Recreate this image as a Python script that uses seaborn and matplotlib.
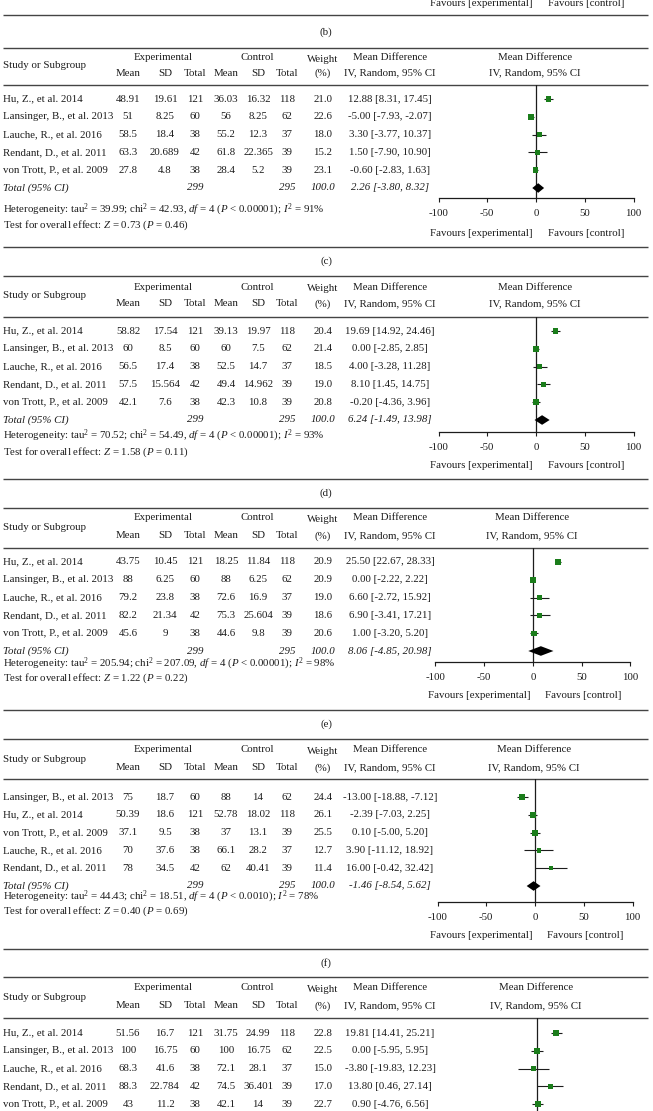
import numpy as np
import pandas as pd
import seaborn as sns
import matplotlib.pyplot as plt

sns.set_theme(style="white")
plt.rcParams['font.family'] = ['Liberation Serif', 'DejaVu Serif']
plt.rcParams['mathtext.fontset'] = 'custom'
plt.rcParams['mathtext.rm'] = 'Liberation Serif'
plt.rcParams['mathtext.it'] = 'Liberation Serif:italic'

W, H = 653, 1111
FS = 7.8
INK = '#1c1c1c'
RULE = '#444444'
GREEN = '#1b7d1b'
STEP = 17.8

# ---- data ----
names_std = ["Hu, Z., et al. 2014", "Lansinger, B., et al. 2013", "Lauche, R., et al. 2016",
             "Rendant, D., et al. 2011", "von Trott, P., et al. 2009"]
names_e = ["Lansinger, B., et al. 2013", "Hu, Z., et al. 2014", "von Trott, P., et al. 2009",
           "Lauche, R., et al. 2016", "Rendant, D., et al. 2011"]

# panel (c)
c_exp_mean = [48.91, 51, 58.5, 63.3, 27.8]
c_exp_sd = [19.61, 8.25, 18.4, 20.689, 4.8]
c_exp_n = [121, 60, 38, 42, 38]
c_ctl_mean = [36.03, 56, 55.2, 61.8, 28.4]
c_ctl_sd = [16.32, 8.25, 12.3, 22.365, 5.2]
c_ctl_n = [118, 62, 37, 39, 39]
c_weight = [21.0, 22.6, 18.0, 15.2, 23.1]
c_md = [12.88, -5.00, 3.30, 1.50, -0.60]
c_lo = [8.31, -7.93, -3.77, -7.90, -2.83]
c_hi = [17.45, -2.07, 10.37, 10.90, 1.63]
c_total = [2.26, -3.80, 8.32]
c_het = ["39.99", "42.93", "0.00001", "91", "0.73", "0.46"]

# panel (d)
d_exp_mean = [58.82, 60, 56.5, 57.5, 42.1]
d_exp_sd = [17.54, 8.5, 17.4, 15.564, 7.6]
d_exp_n = [121, 60, 38, 42, 38]
d_ctl_mean = [39.13, 60, 52.5, 49.4, 42.3]
d_ctl_sd = [19.97, 7.5, 14.7, 14.962, 10.8]
d_ctl_n = [118, 62, 37, 39, 39]
d_weight = [20.4, 21.4, 18.5, 19.0, 20.8]
d_md = [19.69, 0.00, 4.00, 8.10, -0.20]
d_lo = [14.92, -2.85, -3.28, 1.45, -4.36]
d_hi = [24.46, 2.85, 11.28, 14.75, 3.96]
d_total = [6.24, -1.49, 13.98]
d_het = ["70.52", "54.49", "0.00001", "93", "1.58", "0.11"]

# panel (e)
e_exp_mean = [43.75, 88, 79.2, 82.2, 45.6]
e_exp_sd = [10.45, 6.25, 23.8, 21.34, 9]
e_exp_n = [121, 60, 38, 42, 38]
e_ctl_mean = [18.25, 88, 72.6, 75.3, 44.6]
e_ctl_sd = [11.84, 6.25, 16.9, 25.604, 9.8]
e_ctl_n = [118, 62, 37, 39, 39]
e_weight = [20.9, 20.9, 19.0, 18.6, 20.6]
e_md = [25.50, 0.00, 6.60, 6.90, 1.00]
e_lo = [22.67, -2.22, -2.72, -3.41, -3.20]
e_hi = [28.33, 2.22, 15.92, 17.21, 5.20]
e_total = [8.06, -4.85, 20.98]
e_het = ["205.94", "207.09", "0.00001", "98", "1.22", "0.22"]

# panel (f)
f_exp_mean = [75, 50.39, 37.1, 70, 78]
f_exp_sd = [18.7, 18.6, 9.5, 37.6, 34.5]
f_exp_n = [60, 121, 38, 38, 42]
f_ctl_mean = [88, 52.78, 37, 66.1, 62]
f_ctl_sd = [14, 18.02, 13.1, 28.2, 40.41]
f_ctl_n = [62, 118, 39, 37, 39]
f_weight = [24.4, 26.1, 25.5, 12.7, 11.4]
f_md = [-13.00, -2.39, 0.10, 3.90, 16.00]
f_lo = [-18.88, -7.03, -5.00, -11.12, -0.42]
f_hi = [-7.12, 2.25, 5.20, 18.92, 32.42]
f_total = [-1.46, -8.54, 5.62]
f_het = ["44.43", "18.51", "0.0010", "78", "0.40", "0.69"]

# panel (g), cut off at the bottom of the page
g_exp_mean = [51.56, 100, 68.3, 88.3, 43]
g_exp_sd = [16.7, 16.75, 41.6, 22.784, 11.2]
g_exp_n = [121, 60, 38, 42, 38]
g_ctl_mean = [31.75, 100, 72.1, 74.5, 42.1]
g_ctl_sd = [24.99, 16.75, 28.1, 36.401, 14]
g_ctl_n = [118, 62, 37, 39, 39]
g_weight = [22.8, 22.5, 15.0, 17.0, 22.7]
g_md = [19.81, 0.00, -3.80, 13.80, 0.90]
g_lo = [14.41, -5.95, -19.83, 0.46, -4.76]
g_hi = [25.21, 5.95, 12.23, 27.14, 6.56]

axis_ticks = [-100, -50, 0, 50, 100]
n_exp_total, n_ctl_total = 299, 295

# ---- figure ----
fig = plt.figure(figsize=(W / 100, H / 100), dpi=100)
bg = fig.add_axes([0, 0, 1, 1])
bg.set_xlim(0, W)
bg.set_ylim(H, 0)
bg.axis('off')


def txt(x, y, s, ha='center', style='normal', va='center'):
    bg.text(x, y, s, ha=ha, va=va, fontsize=FS, color=INK, style=style)


def rule(y):
    bg.plot([3, 648], [y, y], color=RULE, lw=1.0, solid_capstyle='butt')


def favours(y, x0):
    txt(x0 - 3, y, "Favours [experimental]", ha='right')
    txt(x0 + 12, y, "Favours [control]", ha='left')


cols = dict(em=128, esd=165, en=195, cm=226, csd=258, cn=287, wt=323, md=390)


def draw_panel(study, em, esd, en, cm, csd, cn, wt, md, lo, hi, total, het, lay):
    top, h1, h2, hl, row0, axis_y, x0 = (lay['top'], lay['h1'], lay['h2'], lay['hl'],
                                         lay['row0'], lay['axis'], lay['x0'])
    rule(top)
    rule(hl)
    # headers
    txt(3, (h1 + h2) / 2, "Study or Subgroup", ha='left')
    txt(163, h1, "Experimental")
    txt(257, h1, "Control")
    txt(cols['wt'], h1 + 1.5, "Weight")
    txt(cols['md'], h1, "Mean Difference")
    txt(x0 - 1, h1, "Mean Difference")
    for key, lab in [('em', 'Mean'), ('esd', 'SD'), ('en', 'Total'),
                     ('cm', 'Mean'), ('csd', 'SD'), ('cn', 'Total'), ('wt', '(%)')]:
        txt(cols[key], h2, lab)
    txt(cols['md'], h2, "IV, Random, 95% CI")
    txt(x0 - 1, h2, "IV, Random, 95% CI")

    # table rows
    for i in range(len(study)):
        y = row0 + i * STEP
        txt(3, y, study[i], ha='left')
        txt(cols['em'], y, f"{em[i]:g}")
        txt(cols['esd'], y, f"{esd[i]:g}")
        txt(cols['en'], y, f"{en[i]}")
        txt(cols['cm'], y, f"{cm[i]:g}")
        txt(cols['csd'], y, f"{csd[i]:g}")
        txt(cols['cn'], y, f"{cn[i]}")
        txt(cols['wt'], y, f"{wt[i]:.1f}")
        txt(cols['md'], y, f"{md[i]:.2f} [{lo[i]:.2f}, {hi[i]:.2f}]")

    if total is not None:
        y = row0 + 5 * STEP
        txt(3, y, "Total (95% CI)", ha='left', style='italic')
        txt(cols['en'], y, str(n_exp_total), style='italic')
        txt(cols['cn'], y, str(n_ctl_total), style='italic')
        txt(cols['wt'], y, "100.0", style='italic')
        txt(cols['md'], y, f"{total[0]:.2f} [{total[1]:.2f}, {total[2]:.2f}]", style='italic')
        tau, chi, p, i2, z, pz = het
        txt(3, lay['het'] + 2, "Heterogeneity: tau$^2$ = " + tau + "; chi$^2$ = " + chi +
            ", $df$ = 4 ($P$ < " + p + "); $I^2$ = " + i2 + "%", ha='left', va='baseline')
        txt(3, lay['test'] + 1, "Test for overall effect: $Z$ = " + z + " ($P$ = " + pz + ")",
            ha='left')
        favours(lay['fav'], x0)
        rule(lay['sep'])
        txt(326, lay['lab'], lay['name'])

    # forest plot
    ax = fig.add_axes([(x0 - 97.5) / W, 1 - axis_y / H, 195 / W, (axis_y - hl) / H])
    ax.patch.set_alpha(0)
    df = pd.DataFrame({'md': md, 'lo': lo, 'hi': hi, 'wt': wt, 'row': np.arange(len(md))})
    ax.hlines(df['row'], df['lo'], df['hi'], color=INK, lw=0.8, zorder=2)
    sns.scatterplot(data=df, x='md', y='row', size='wt', sizes=(0, 22), size_norm=(0, 30),
                    marker='s', color=GREEN, edgecolor='none', linewidth=0, legend=False,
                    ax=ax, zorder=3)
    if total is not None:
        est, tlo, thi = total
        ax.fill([tlo, est, thi, est], [5, 5 - 0.27, 5, 5 + 0.27], color='black', lw=0, zorder=3)
    ax.axvline(0, color=INK, lw=0.9, zorder=1)
    ax.set_xlim(-100, 100)
    ax.set_ylim((axis_y - row0) / STEP, (hl - row0) / STEP)
    ax.set_yticks([])
    ax.set_xlabel('')
    ax.set_ylabel('')
    for s in ['top', 'right', 'left']:
        ax.spines[s].set_visible(False)
    if total is not None:
        ax.set_xticks(axis_ticks)
        ax.set_xticklabels([str(t) for t in axis_ticks])
        ax.spines['bottom'].set_color(INK)
        ax.spines['bottom'].set_linewidth(0.9)
        ax.tick_params(axis='x', bottom=True, direction='out', length=3, width=0.8, color=INK,
                       labelsize=FS, labelcolor=INK, pad=5)
    else:
        ax.set_xticks([])
        ax.spines['bottom'].set_visible(False)


# tail of the previous panel
favours(4, 536)
rule(15)
txt(326, 32, "(b)")

lay_c = dict(top=48, h1=58, h2=73, hl=85, row0=99, axis=198, x0=536, het=211, test=224,
             fav=233, sep=247, lab=261, name='(c)')
lay_d = dict(top=276, h1=287, h2=304, hl=317, row0=331, axis=432, x0=536, het=437, test=451,
             fav=465, sep=479, lab=493, name='(d)')
lay_e = dict(top=508, h1=518, h2=536, hl=548, row0=562, axis=662, x0=533, het=665, test=677.5,
             fav=696, sep=710, lab=724, name='(e)')
lay_f = dict(top=739, h1=750, h2=768, hl=779, row0=797, axis=902, x0=535, het=898, test=910.5,
             fav=935, sep=949, lab=963, name='(f)')
lay_g = dict(top=977, h1=988, h2=1006, hl=1018, row0=1033, axis=1140, x0=537)

draw_panel(names_std, c_exp_mean, c_exp_sd, c_exp_n, c_ctl_mean, c_ctl_sd, c_ctl_n,
           c_weight, c_md, c_lo, c_hi, c_total, c_het, lay_c)
draw_panel(names_std, d_exp_mean, d_exp_sd, d_exp_n, d_ctl_mean, d_ctl_sd, d_ctl_n,
           d_weight, d_md, d_lo, d_hi, d_total, d_het, lay_d)
draw_panel(names_std, e_exp_mean, e_exp_sd, e_exp_n, e_ctl_mean, e_ctl_sd, e_ctl_n,
           e_weight, e_md, e_lo, e_hi, e_total, e_het, lay_e)
draw_panel(names_e, f_exp_mean, f_exp_sd, f_exp_n, f_ctl_mean, f_ctl_sd, f_ctl_n,
           f_weight, f_md, f_lo, f_hi, f_total, f_het, lay_f)
draw_panel(names_std, g_exp_mean, g_exp_sd, g_exp_n, g_ctl_mean, g_ctl_sd, g_ctl_n,
           g_weight, g_md, g_lo, g_hi, None, None, lay_g)

fig.savefig("out.png", dpi=100)
